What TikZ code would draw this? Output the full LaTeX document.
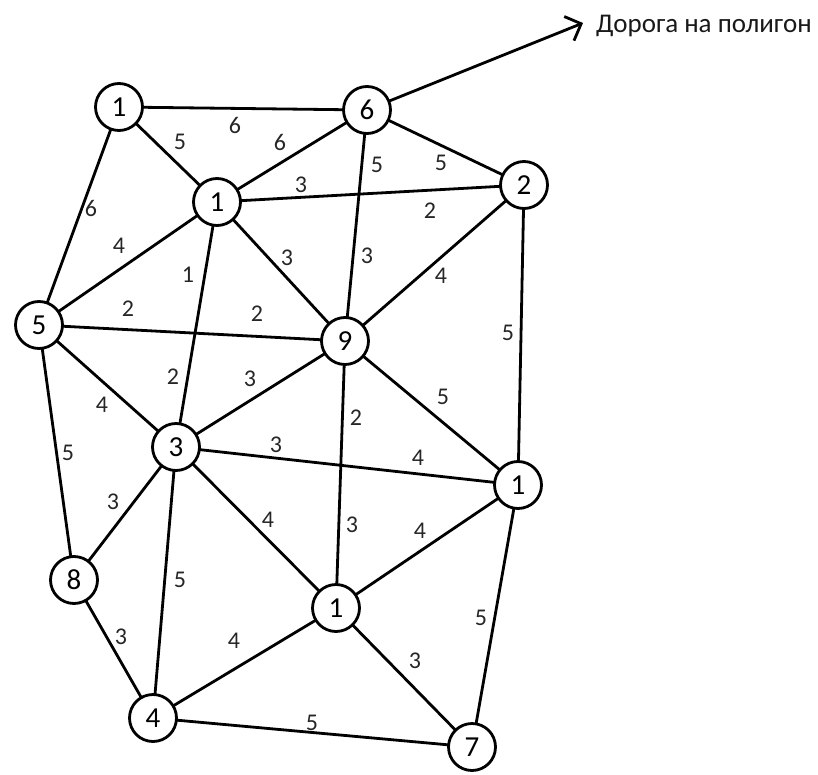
\documentclass[tikz,border=0pt]{standalone}
\usepackage{fontspec}
\setmainfont{Carlito}
\usetikzlibrary{arrows.meta}
\begin{document}
\begin{tikzpicture}[x=1pt,y=-1pt,
  vertex/.style={draw,circle,line width=2.8pt,minimum size=47pt,inner sep=0pt,
    fill=white,font=\fontsize{29}{29}\selectfont},
  link/.style={line width=2.8pt},
  wt/.style={inner sep=0pt,text=black!85,font=\fontsize{24}{24}\selectfont}]
\useasboundingbox (0,0) rectangle (818,775);

% edges are drawn first, vertices on top
\coordinate (a) at (119,107);
\coordinate (b) at (367,110);
\coordinate (c) at (524,185);
\coordinate (d) at (217,202);
\coordinate (e) at (39,325);
\coordinate (f) at (345,341);
\coordinate (g) at (176,447);
\coordinate (h) at (518,485);
\coordinate (i) at (74,580);
\coordinate (j) at (336,608);
\coordinate (k) at (153,718);
\coordinate (l) at (472,747);
\coordinate (tip) at (583,23);

\draw[link] (a) -- (b);
\draw[link] (a) -- (d);
\draw[link] (a) -- (e);
\draw[link] (b) -- (d);
\draw[link] (b) -- (c);
\draw[link] (b) -- (f);
\draw[link] (d) -- (c);
\draw[link] (d) -- (e);
\draw[link] (d) -- (g);
\draw[link] (d) -- (f);
\draw[link] (c) -- (f);
\draw[link] (c) -- (h);
\draw[link] (e) -- (f);
\draw[link] (e) -- (g);
\draw[link] (e) -- (i);
\draw[link] (f) -- (g);
\draw[link] (f) -- (j);
\draw[link] (f) -- (h);
\draw[link] (g) -- (h);
\draw[link] (g) -- (i);
\draw[link] (g) -- (k);
\draw[link] (g) -- (j);
\draw[link] (h) -- (j);
\draw[link] (h) -- (l);
\draw[link] (i) -- (k);
\draw[link] (j) -- (k);
\draw[link] (j) -- (l);
\draw[link] (k) -- (l);
\draw[link,-{Straight Barb[length=13pt,width=26pt,line width=2.8pt]}] (b) -- (tip);

% vertices
\node[vertex] (na) at (a) {1};
\node[vertex] (nb) at (b) {6};
\node[vertex] (nc) at (c) {2};
\node[vertex] (nd) at (d) {1};
\node[vertex] (ne) at (e) {5};
\node[vertex] (nf) at (f) {9};
\node[vertex] (ng) at (g) {3};
\node[vertex] (nh) at (h) {1};
\node[vertex] (ni) at (i) {8};
\node[vertex] (nj) at (j) {1};
\node[vertex] (nk) at (k) {4};
\node[vertex] (nl) at (l) {7};

\node[anchor=base west,inner sep=0pt,text=black!90,font=\fontsize{27}{27}\selectfont]
  (road) at (596,33) {Дорога на полигон};

% edge weights
\node[wt] (w1) at (235,125) {6};
\node[wt] (w2) at (180,142) {5};
\node[wt] (w3) at (280,142) {6};
\node[wt] (w4) at (377,165) {5};
\node[wt] (w5) at (301,185) {3};
\node[wt] (w6) at (91,208) {6};
\node[wt] (w7) at (119,246) {4};
\node[wt] (w8) at (287,258) {3};
\node[wt] (w9) at (367,256) {3};
\node[wt] (w10) at (188,275) {1};
\node[wt] (w11) at (441,163) {5};
\node[wt] (w12) at (430,211) {2};
\node[wt] (w13) at (441,276) {4};
\node[wt] (w14) at (128,309) {2};
\node[wt] (w15) at (257,314) {2};
\node[wt] (w16) at (173,377) {2};
\node[wt] (w17) at (250,379) {3};
\node[wt] (w18) at (102,405) {4};
\node[wt] (w19) at (356,418) {2};
\node[wt] (w20) at (276,445) {3};
\node[wt] (w21) at (68,453) {5};
\node[wt] (w22) at (113,502) {3};
\node[wt] (w23) at (508,333) {5};
\node[wt] (w24) at (443,397) {5};
\node[wt] (w25) at (418,458) {4};
\node[wt] (w26) at (268,520) {4};
\node[wt] (w27) at (352,525) {3};
\node[wt] (w28) at (180,580) {5};
\node[wt] (w29) at (121,637) {3};
\node[wt] (w30) at (234,641) {4};
\node[wt] (w31) at (312,723) {5};
\node[wt] (w32) at (420,531) {4};
\node[wt] (w33) at (481,618) {5};
\node[wt] (w34) at (415,661) {3};
\end{tikzpicture}
\end{document}
